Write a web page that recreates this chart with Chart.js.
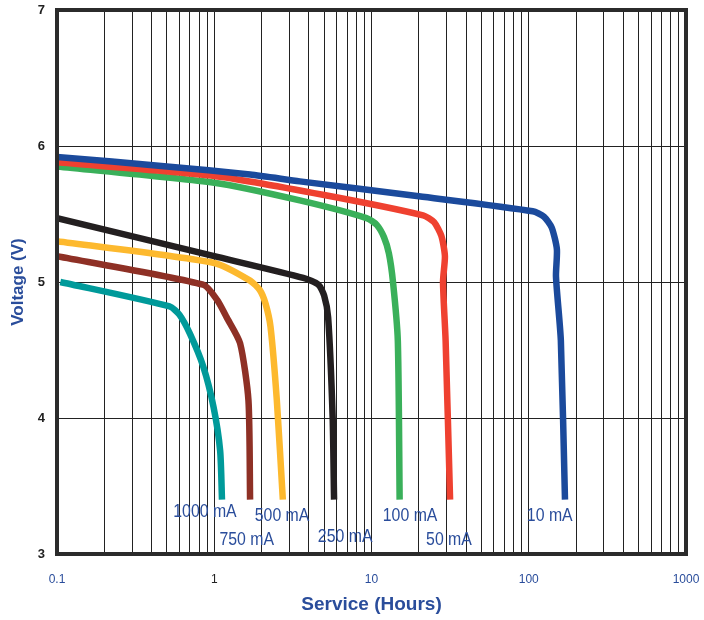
<!DOCTYPE html>
<html>
<head>
<meta charset="utf-8">
<script src="https://cdn.jsdelivr.net/npm/chart.js@4.4.1/dist/chart.umd.min.js"></script>
<style>
  html, body { margin: 0; padding: 0; background: #fff; }
  #wrap { width: 704px; height: 620px; position: relative; }
</style>
</head>
<body>
<div id="wrap"><canvas id="chart"></canvas></div>
<script>
// Curvas de descarga: horas de serviço vs tensão
const h10 = [0.1, 0.5, 1.69, 3.5, 20, 106, 125, 140, 151, 149, 160, 170];
const v10 = [5.92, 5.85, 5.79, 5.74, 5.63, 5.52, 5.48, 5.40, 5.24, 5.04, 4.57, 3.40];

const h50 = [0.1, 1, 5, 21.3, 25, 27.8, 29.3, 28.5, 29.6, 31.6];
const v50 = [5.88, 5.78, 5.64, 5.49, 5.44, 5.34, 5.19, 5.00, 4.57, 3.40];

const h100 = [0.1, 1, 3.5, 9.3, 10.8, 12.0, 12.9, 13.7, 14.7, 15.1];
const v100 = [5.85, 5.73, 5.60, 5.47, 5.42, 5.33, 5.21, 5.00, 4.57, 3.40];

const h250 = [0.1, 1, 3.68, 4.6, 5.0, 5.3, 5.66, 5.78];
const v250 = [5.47, 5.19, 5.03, 4.98, 4.90, 4.74, 4.01, 3.40];

const h500 = [0.1, 1, 1.69, 1.95, 2.12, 2.28, 2.5, 2.73];
const v500 = [5.30, 5.14, 5.01, 4.94, 4.84, 4.67, 4.13, 3.40];

const h750 = [0.1, 0.85, 1.04, 1.2, 1.46, 1.65, 1.69];
const v750 = [5.19, 4.98, 4.87, 4.74, 4.55, 4.13, 3.40];

const h1000 = [0.105, 0.52, 0.6, 0.7, 0.85, 0.99, 1.09, 1.12];
const v1000 = [5.00, 4.82, 4.76, 4.62, 4.38, 4.08, 3.76, 3.40];

const series = [
	{ nome: "10 mA", h: h10, v: v10, cor: "#1b4a9c" },
	{ nome: "50 mA", h: h50, v: v50, cor: "#ef4130" },
	{ nome: "100 mA", h: h100, v: v100, cor: "#3ab05a" },
	{ nome: "250 mA", h: h250, v: v250, cor: "#231f20" },
	{ nome: "500 mA", h: h500, v: v500, cor: "#fdb92e" },
	{ nome: "750 mA", h: h750, v: v750, cor: "#8e3025" },
	{ nome: "1000 mA", h: h1000, v: v1000, cor: "#009a9a" },
];

// Rótulos das curvas (ancorados em horas / volts)
const rotulos = ["1000 mA", "500 mA", "750 mA", "250 mA", "100 mA", "50 mA", "10 mA"];
const rotuloH = [0.873, 2.7, 1.61, 6.8, 17.6, 31.1, 136];
const rotuloV = [3.31, 3.28, 3.10, 3.125, 3.28, 3.10, 3.28];

const decadas = [0.1, 1, 10, 100, 1000];
const yTicks = [3, 4, 5, 6, 7];

const azul = "#2a4d9b";
const fonte = "'Liberation Sans', Arial, sans-serif";

// linhas de grade do eixo log: 1..9 em cada década
const gradeX = [];
decadas.slice(0, -1).forEach((d) => {
	for (let k = 1; k <= 9; k++) gradeX.push(+(d * k).toPrecision(3));
});
gradeX.push(1000);

const datasets = series.map((s) => ({
	label: s.nome,
	data: s.h.map((x, i) => ({ x: x, y: s.v[i] })),
	borderColor: s.cor,
	backgroundColor: s.cor,
	borderWidth: 6.5,
	pointRadius: 0,
	tension: 0.22,
	fill: false,
	borderCapStyle: "butt",
	borderJoinStyle: "round",
}));

const moldura = {
	id: "moldura",
	afterDatasetsDraw(chart) {
		const { ctx, chartArea: a, scales } = chart;
		ctx.save();
		ctx.strokeStyle = "#2b2b2b";
		ctx.lineWidth = 4;
		ctx.strokeRect(a.left, a.top, a.right - a.left, a.bottom - a.top);
		// rótulos das curvas (fonte estreitada)
		ctx.fillStyle = azul;
		ctx.font = "18px " + fonte;
		ctx.textAlign = "center";
		ctx.textBaseline = "middle";
		rotulos.forEach((t, i) => {
			const px = scales.x.getPixelForValue(rotuloH[i]);
			const py = scales.y.getPixelForValue(rotuloV[i]);
			ctx.save();
			ctx.translate(px, py);
			ctx.scale(0.88, 1);
			ctx.fillText(t, 0, 0);
			ctx.restore();
		});
		ctx.restore();
	},
};

new Chart(document.getElementById("chart"), {
	type: "line",
	data: { datasets: datasets },
	plugins: [moldura],
	options: {
		responsive: true,
		maintainAspectRatio: false,
		animation: false,
		layout: { padding: { top: 10, right: 18, left: 8, bottom: 4 } },
		plugins: {
			legend: { display: false },
			tooltip: { enabled: false },
		},
		scales: {
			x: {
				type: "logarithmic",
				min: 0.1,
				max: 1000,
				afterBuildTicks: (scale) => {
					scale.ticks = gradeX.map((v) => ({ value: v }));
				},
				afterFit: (scale) => {
					scale.height = 62;
					scale.paddingLeft = 0;
					scale.paddingRight = 0;
				},
				grid: { color: "#222", lineWidth: 1, drawTicks: false },
				border: { display: false },
				ticks: {
					autoSkip: false,
					maxRotation: 0,
					padding: 18,
					font: { size: 12, family: fonte },
					color: (c) => (c.tick && c.tick.value === 1 ? "#222" : azul),
					callback: (v) => (decadas.includes(v) ? String(v) : ""),
				},
				title: {
					display: true,
					text: "Service (Hours)",
					color: azul,
					font: { size: 19, weight: "bold", family: fonte },
					padding: { top: 2, bottom: 0 },
				},
			},
			y: {
				min: 3,
				max: 7,
				afterBuildTicks: (scale) => {
					scale.ticks = yTicks.map((v) => ({ value: v }));
				},
				afterFit: (scale) => {
					scale.width = 49;
					scale.paddingTop = 0;
					scale.paddingBottom = 0;
				},
				grid: { color: "#222", lineWidth: 1, drawTicks: false },
				border: { display: false },
				ticks: {
					padding: 12,
					color: "#222",
					font: { size: 13, weight: "bold", family: fonte },
				},
				title: {
					display: true,
					text: "Voltage (V)",
					color: azul,
					font: { size: 17, weight: "bold", family: fonte },
					padding: { top: 0, bottom: 0 },
				},
			},
		},
	},
});
</script>
</body>
</html>
